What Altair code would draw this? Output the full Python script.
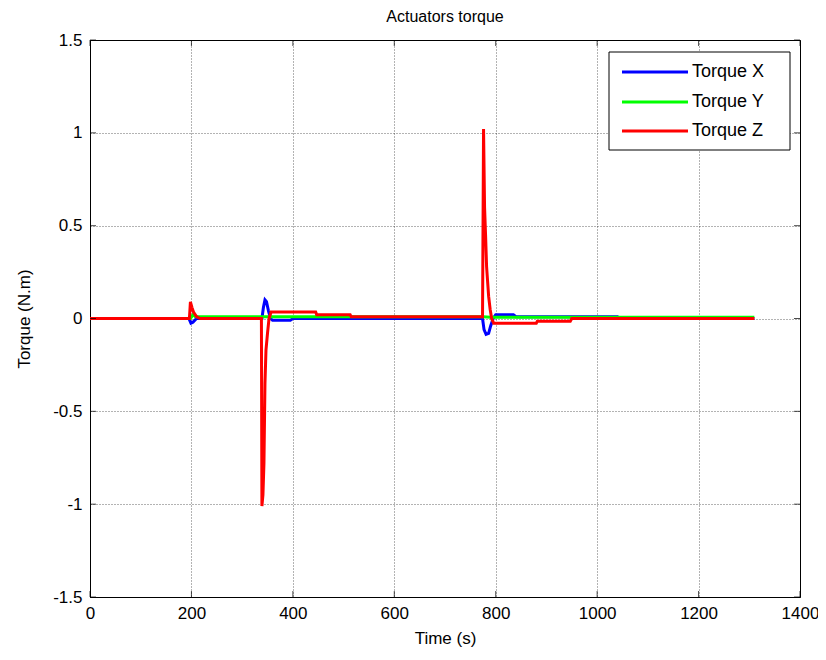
import altair as alt
import pandas as pd

# Torque X (blue)
tx = [0, 195, 199, 203, 210, 339, 342, 345, 348, 352, 356, 360, 395, 400, 774, 777, 781, 786, 790, 795, 800, 835, 840, 1040, 1045, 1310]
vx = [0, 0, -0.025, -0.02, 0, 0, 0.06, 0.1, 0.09, 0.04, 0.0, -0.01, -0.01, 0, 0, -0.06, -0.085, -0.08, -0.04, 0.0, 0.02, 0.02, 0.01, 0.01, 0, 0]

# Torque Y (green)
ty = [0, 198, 203, 208, 212, 775, 790, 1310]
vy = [0, 0, 0.02, 0.01, 0.01, 0.01, 0.007, 0.007]

# Torque Z (red)
tz = [0, 196, 198, 201, 204, 210, 217, 338, 339, 341, 343, 345, 347, 350, 353, 357, 445, 447, 513, 515,
      774, 776, 778, 780, 782, 784, 786, 789, 792, 796, 880, 882, 947, 950, 1310]
vz = [0, 0, 0.09, 0.06, 0.035, 0.01, 0, 0, -1.01, -0.95, -0.78, -0.35, -0.17, -0.08, 0.0, 0.035, 0.035, 0.02, 0.02, 0.01,
      0.01, 1.02, 0.6, 0.45, 0.28, 0.2, 0.12, 0.05, 0.0, -0.025, -0.025, -0.015, -0.015, 0, 0]

series = ["Torque X", "Torque Y", "Torque Z"]
colors = ["#0000FF", "#00FF00", "#FF0000"]
x_ticks = [0, 200, 400, 600, 800, 1000, 1200, 1400]
y_ticks = [-1.5, -1, -0.5, 0, 0.5, 1, 1.5]

rows = []
for name, ts, vs in zip(series, [tx, ty, tz], [vx, vy, vz]):
    for i, (t, v) in enumerate(zip(ts, vs)):
        rows.append({"series": name, "t": t, "v": v, "i": i})
df = pd.DataFrame(rows)

FONT = "Liberation Sans"
W, H = 710, 557

xscale = alt.Scale(domain=[0, 1400], nice=False)
yscale = alt.Scale(domain=[-1.5, 1.5], nice=False)

lines = alt.Chart(df).mark_line(strokeWidth=3).encode(
    x=alt.X("t:Q", scale=xscale,
            axis=alt.Axis(values=x_ticks, title="Time (s)", labelExpr="toString(datum.value)",
                          labelFlush=False)),
    y=alt.Y("v:Q", scale=yscale,
            axis=alt.Axis(values=y_ticks, title="Torque (N.m)", labelExpr="toString(datum.value)",
                          labelFlush=False)),
    color=alt.Color("series:N", scale=alt.Scale(domain=series, range=colors), legend=None),
    order=alt.Order("i:Q"),
)

# inward tick marks on all four sides (MATLAB style)
xt_df = pd.DataFrame({"t": x_ticks})
yt_df = pd.DataFrame({"v": y_ticks})
tick_layers = [
    alt.Chart(xt_df).mark_tick(color="#000", size=6, thickness=1).encode(
        x=alt.X("t:Q", scale=xscale), y=alt.value(H - 3)),
    alt.Chart(xt_df).mark_tick(color="#000", size=6, thickness=1).encode(
        x=alt.X("t:Q", scale=xscale), y=alt.value(3)),
    alt.Chart(yt_df).mark_tick(color="#000", size=6, thickness=1).encode(
        y=alt.Y("v:Q", scale=yscale), x=alt.value(3)),
    alt.Chart(yt_df).mark_tick(color="#000", size=6, thickness=1).encode(
        y=alt.Y("v:Q", scale=yscale), x=alt.value(W - 3)),
]

# Manual legend box (pixel positions inside the plot area)
leg_df = pd.DataFrame({"series": series})
box = alt.Chart(leg_df).transform_filter(alt.datum.series == series[0]).mark_rect(
    fill="#fff", stroke="#000", strokeWidth=1
).encode(x=alt.value(519), x2=alt.value(700), y=alt.value(12), y2=alt.value(110))

legend_layers = [box]
row_y = [32, 62, 91]
for name, col, yy in zip(series, colors, row_y):
    one = alt.Chart(leg_df).transform_filter(alt.datum.series == name)
    legend_layers.append(
        one.mark_rule(strokeWidth=3, color=col).encode(
            x=alt.value(532), x2=alt.value(598), y=alt.value(yy))
    )
    legend_layers.append(
        one.mark_text(align="left", baseline="middle", font=FONT, fontSize=18, color="#000").encode(
            x=alt.value(602), y=alt.value(yy), text="series:N")
    )

chart = alt.layer(lines, *tick_layers, *legend_layers).properties(
    width=W, height=H,
    title=alt.Title("Actuators torque", fontSize=16, font=FONT, fontWeight="normal", offset=6, color="#000"),
    autosize=alt.AutoSizeParams(type="none"),
    padding={"left": 82, "top": 32, "right": 18, "bottom": 50},
).configure_view(
    stroke="#000", strokeWidth=1
).configure_axis(
    labelFont=FONT, titleFont=FONT, labelFontSize=17, titleFontSize=17,
    titleFontWeight="normal", labelColor="#000", titleColor="#000",
    domainColor="#000", tickSize=0, grid=True, gridColor="#000",
    gridDash=[1, 2], gridOpacity=0.6, gridWidth=1,
).configure_axisX(
    labelPadding=8, titlePadding=9
).configure_axisY(
    labelPadding=8, titlePadding=19
)

chart.save("out.html", embed_options={"renderer": "svg", "actions": False})
